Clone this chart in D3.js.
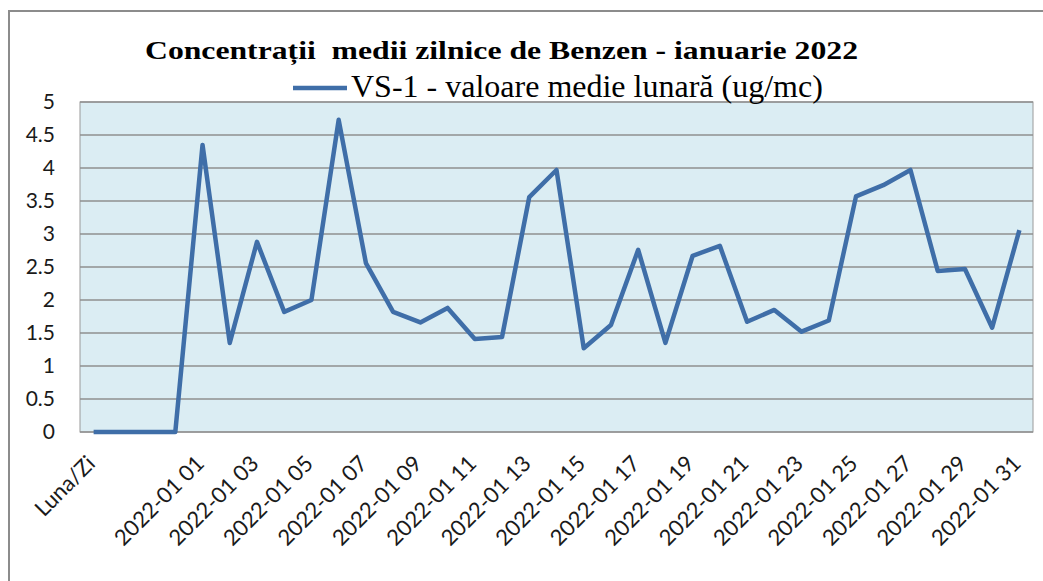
<!DOCTYPE html>
<html>
<head>
<meta charset="utf-8">
<script src="https://cdn.jsdelivr.net/npm/d3@7"></script>
<style>
  body { margin: 0; background: #fff; }
  svg { display: block; }
  .serif { font-family: "Liberation Serif", "Times New Roman", serif; }
</style>
</head>
<body>
<script>
// categories: label cell, three empty cells, then the days of January
var DAYS = ["01","02","03","04","05","06","07","08","09","10","11","12","13","14","15","16",
            "17","18","19","20","21","22","23","24","25","26","27","28","29","30","31"];
var CATEGORIES = ["Luna/Zi", " ", "  ", "   "].concat(DAYS.map(function(d) { return "2022-01 " + d; }));

// VS-1 daily values (ug/mc)
var LEAD_VALUES = [0, 0, 0, 0];
var DAY_VALUES = [4.35, 1.35, 2.88, 1.82, 2.00, 4.73, 2.56, 1.82, 1.66, 1.88,
                  1.41, 1.44, 3.56, 3.97, 1.27, 1.62, 2.76, 1.35, 2.67, 2.82,
                  1.67, 1.85, 1.52, 1.69, 3.57, 3.74, 3.97, 2.44, 2.47, 1.58, 3.06];
var VALUES = LEAD_VALUES.concat(DAY_VALUES);

var Y_TICKS = [0, 0.5, 1, 1.5, 2, 2.5, 3, 3.5, 4, 4.5, 5];

var TITLE = "Concentrații  medii zilnice de Benzen - ianuarie 2022";
var SERIES_NAME = "VS-1 - valoare medie lunară (ug/mc)";

var W = 1043, H = 581;
var PLOT = { left: 80, right: 1033, top: 102, bottom: 432 };
var LINE_COLOR = "#3f6ea8";
var AXIS_FONT = "Lato, 'Open Sans', sans-serif";

var svg = d3.select("body").append("svg")
    .attr("width", W)
    .attr("height", H);

// outer chart frame (runs off the right and bottom of the picture)
svg.append("rect")
    .attr("x", 9).attr("y", 11)
    .attr("width", 1200).attr("height", 700)
    .attr("fill", "#fff")
    .attr("stroke", "#8c8c8c")
    .attr("stroke-width", 2);

var x = d3.scaleBand()
    .domain(CATEGORIES)
    .range([PLOT.left, PLOT.right])
    .paddingInner(0).paddingOuter(0);

var y = d3.scaleLinear()
    .domain([0, 5])
    .range([PLOT.bottom, PLOT.top]);

// plot background
svg.append("rect")
    .attr("x", PLOT.left).attr("y", PLOT.top)
    .attr("width", PLOT.right - PLOT.left)
    .attr("height", PLOT.bottom - PLOT.top)
    .attr("fill", "#dbedf3")
    .attr("stroke", "#9a9a9a")
    .attr("stroke-width", 1);

// horizontal gridlines
svg.append("g")
    .selectAll("line")
    .data(Y_TICKS)
    .enter().append("line")
    .attr("x1", PLOT.left).attr("x2", PLOT.right)
    .attr("y1", function(d) { return y(d); })
    .attr("y2", function(d) { return y(d); })
    .attr("stroke", "#8f8f8f")
    .attr("stroke-width", 1.5);

// y axis labels
var yAxis = svg.append("g")
    .attr("transform", "translate(" + PLOT.left + ",0)")
    .call(d3.axisLeft(y).tickValues(Y_TICKS).tickSize(0).tickPadding(25)
        .tickFormat(function(d) { return String(d); }));
yAxis.select(".domain").remove();
yAxis.selectAll("text")
    .attr("font-family", AXIS_FONT)
    .attr("font-size", 21)
    .attr("fill", "#1a1a1a");

// x axis labels, every other category
var xAxis = svg.append("g")
    .attr("transform", "translate(0," + PLOT.bottom + ")")
    .call(d3.axisBottom(x)
        .tickValues(CATEGORIES.filter(function(d, i) { return i % 2 === 0; }))
        .tickSize(0));
xAxis.select(".domain").remove();
xAxis.selectAll("text")
    .attr("font-family", AXIS_FONT)
    .attr("font-size", 22)
    .attr("fill", "#1a1a1a")
    .attr("text-anchor", "end")
    .attr("dy", 0)
    .attr("y", 0)
    .attr("transform", "translate(3,33) rotate(-45)");

// the series line
var line = d3.line()
    .x(function(d, i) { return x(CATEGORIES[i]) + x.bandwidth() / 2; })
    .y(function(d) { return y(d); });

svg.append("path")
    .datum(VALUES)
    .attr("d", line)
    .attr("fill", "none")
    .attr("stroke", LINE_COLOR)
    .attr("stroke-width", 4.5)
    .attr("stroke-linejoin", "round");

// title (the original is drawn a little wide)
svg.append("text")
    .attr("class", "serif")
    .attr("x", 145).attr("y", 59)
    .attr("font-weight", "bold")
    .attr("font-size", 26)
    .attr("textLength", 713)
    .attr("lengthAdjust", "spacingAndGlyphs")
    .style("white-space", "pre")
    .text(TITLE);

// legend
svg.append("line")
    .attr("x1", 293).attr("x2", 347)
    .attr("y1", 88).attr("y2", 88)
    .attr("stroke", LINE_COLOR)
    .attr("stroke-width", 4.5);
svg.append("text")
    .attr("class", "serif")
    .attr("x", 351).attr("y", 97)
    .attr("font-size", 32)
    .text(SERIES_NAME);
</script>
</body>
</html>
